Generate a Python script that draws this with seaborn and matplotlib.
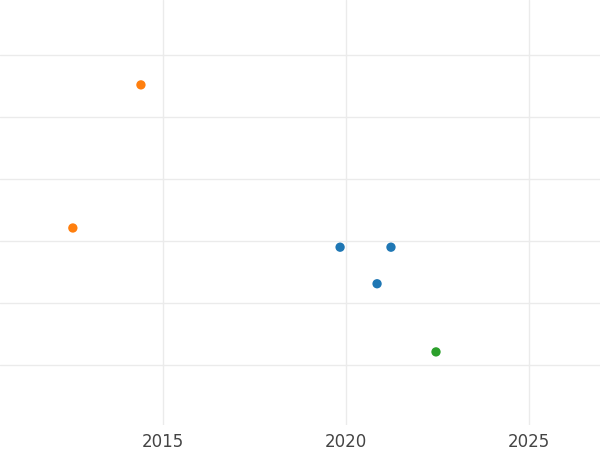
import matplotlib
matplotlib.use("Agg")
import matplotlib.pyplot as plt
import seaborn as sns
import pandas as pd

years = [2014.4, 2012.54, 2019.84, 2021.23, 2020.85, 2022.46]
values = [5.52, 3.21, 2.90, 2.90, 2.31, 1.21]
groups = ["B", "B", "A", "A", "A", "C"]
df = pd.DataFrame({"year": years, "value": values, "group": groups})

sns.set_theme(style="white")
fig = plt.figure(figsize=(6, 4.5), dpi=100)
ax = fig.add_axes([0, 1 - 425/450, 1, 425/450])
sns.scatterplot(data=df, x="year", y="value", hue="group",
                palette={"A": "#1f77b4", "B": "#ff7f0e", "C": "#2ca02c"},
                hue_order=["A", "B", "C"], s=45, edgecolor="none", ax=ax, legend=False, zorder=3)
ax.set_xlim(2010.55, 2026.94)
ax.set_ylim(0.03, 6.89)
ax.set_xticks([2015, 2020, 2025])
ax.set_yticks([1, 2, 3, 4, 5, 6])
ax.set_yticklabels([])
ax.tick_params(axis="y", length=0)
ax.tick_params(axis="x", length=0, labelsize=12, colors="#444444", pad=6)
ax.grid(True, color="#ebebeb", linewidth=1)
ax.set_xlabel("")
ax.set_ylabel("")
for s in ax.spines.values():
    s.set_visible(False)
fig.savefig("out.png", dpi=100)
